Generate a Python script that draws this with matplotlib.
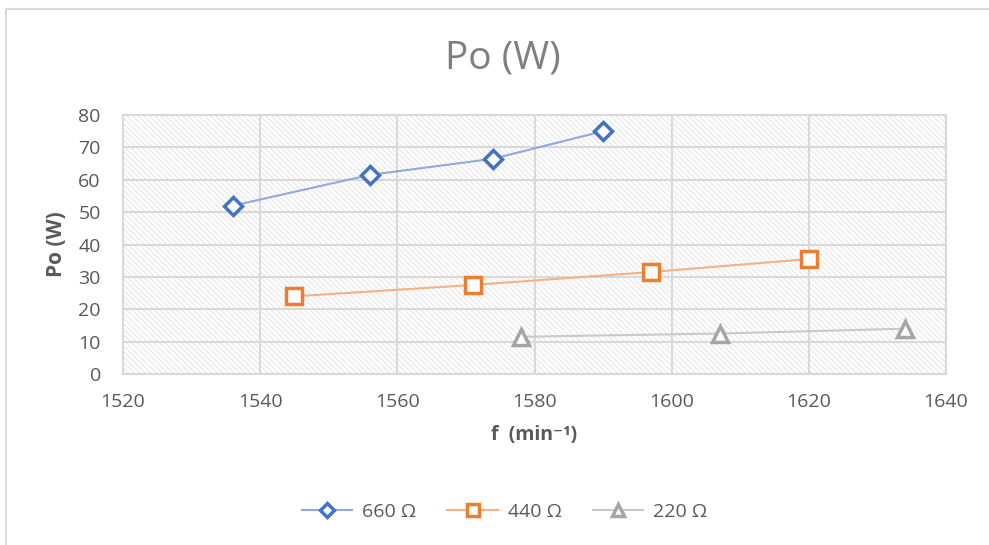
import matplotlib
matplotlib.use('Agg')
import matplotlib.pyplot as plt
from matplotlib.patches import Rectangle
from matplotlib.lines import Line2D

plt.rcParams['font.family'] = ['Open Sans', 'DejaVu Sans']
plt.rcParams['hatch.linewidth'] = 0.6
plt.rcParams['hatch.color'] = '#e0e0e0'

# 数据
f_660 = [1536, 1556, 1574, 1590]
po_660 = [52, 61.5, 66.5, 75]
f_440 = [1545, 1571, 1597, 1620]
po_440 = [24, 27.5, 31.5, 35.5]
f_220 = [1578, 1607, 1634]
po_220 = [11.5, 12.5, 14]

x_ticks = [1520, 1540, 1560, 1580, 1600, 1620, 1640]
y_ticks = [0, 10, 20, 30, 40, 50, 60, 70, 80]

TXT = '#595959'
GRID = '#d9d9d9'

fig = plt.figure(figsize=(9.89, 5.45), dpi=100)
ax = fig.add_axes([123 / 989, 1 - 374 / 545, (946 - 123) / 989, (374 - 115) / 545])

# 绘图区斜线底纹
ax.add_patch(Rectangle((0, 0), 1, 1, transform=ax.transAxes, facecolor='white',
                       hatch='\\\\\\\\\\\\', edgecolor='#e0e0e0', linewidth=0, zorder=0))

ax.set_xlim(1520, 1640)
ax.set_ylim(0, 80)
ax.set_xticks(x_ticks)
ax.set_yticks(y_ticks)
ax.grid(True, color=GRID, linewidth=1.5, zorder=1)
ax.set_axisbelow(True)
for s in ax.spines.values():
    s.set_color(GRID)
    s.set_linewidth(1.5)
ax.tick_params(length=0, labelsize=14, labelcolor=TXT)
ax.tick_params(axis='x', pad=14)
ax.tick_params(axis='y', pad=16)

ax.plot(f_660, po_660, color='#8faadc', linewidth=1.5, marker='D', markersize=9,
        markerfacecolor='white', markeredgecolor='#4472c4', markeredgewidth=2.5,
        label='660 Ω', zorder=3)
ax.plot(f_440, po_440, color='#f4b183', linewidth=1.5, marker='s', markersize=12,
        markerfacecolor='white', markeredgecolor='#ed7d31', markeredgewidth=2.5,
        label='440 Ω', zorder=3)
ax.plot(f_220, po_220, color='#c9c9c9', linewidth=1.5, marker='^', markersize=12,
        markerfacecolor='white', markeredgecolor='#a5a5a5', markeredgewidth=2.5,
        label='220 Ω', zorder=3)

ax.set_xlabel('f  (min⁻¹)', fontsize=14, fontweight='bold', color=TXT, labelpad=10)
ax.set_ylabel('Po (W)', fontsize=15, fontweight='bold', color=TXT, labelpad=8)
fig.text(0.508, 1 - 58 / 545, 'Po (W)', ha='center', va='center', fontsize=28, color='#7f7f7f')

leg = fig.legend(loc='center', bbox_to_anchor=(0.51, 1 - 512 / 545), ncol=3, frameon=False,
                 fontsize=14, handlelength=2.6, columnspacing=1.6, handletextpad=0.5,
                 markerscale=0.75)
for t in leg.get_texts():
    t.set_color(TXT)

# 图表外框
fig.add_artist(Line2D([6 / 989, 6 / 989], [0, 1 - 9 / 545], color=GRID, linewidth=1.5))
fig.add_artist(Line2D([6 / 989, 1], [1 - 9 / 545, 1 - 9 / 545], color=GRID, linewidth=1.5))

fig.savefig('out.png', dpi=100)
